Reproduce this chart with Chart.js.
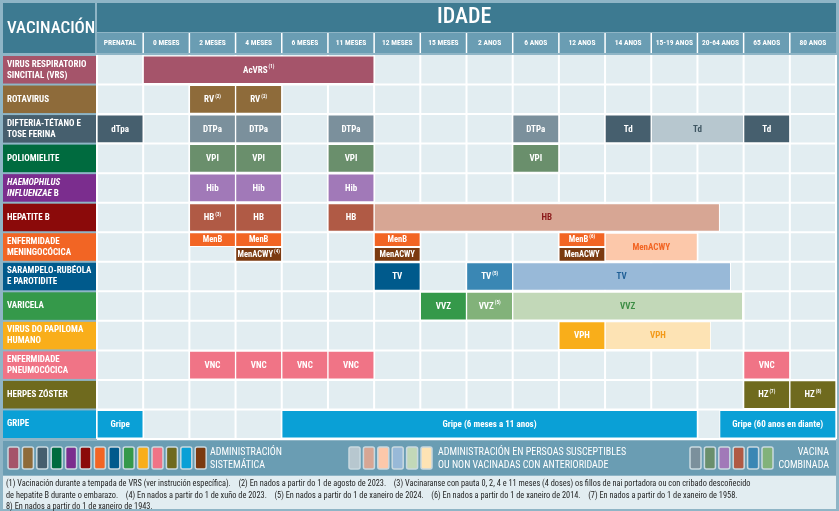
<!DOCTYPE html>
<html><head><meta charset="utf-8">
<script src="https://cdn.jsdelivr.net/npm/chart.js@4"></script>
<style>html,body{margin:0;padding:0;background:#fff}#w{width:839px;height:511px}</style>
</head><body><div id="w"><canvas id="c"></canvas></div>
<script>
const ages = ["PRENATAL","0 MESES","2 MESES","4 MESES","6 MESES","11 MESES","12 MESES","15 MESES","2 ANOS","6 ANOS","12 ANOS","14 ANOS","15-19 ANOS","20-64 ANOS","65 ANOS","80 ANOS"];
const vaccines = [["VIRUS RESPIRATORIO","SINCITIAL (VRS)"],["ROTAVIRUS"],["DIFTERIA-TÉTANO E","TOSE FERINA"],["POLIOMIELITE"],["HAEMOPHILUS","INFLUENZAE"],["HEPATITE B"],["ENFERMIDADE","MENINGOCÓCICA"],["SARAMPELO-RUBÉOLA","E PAROTIDITE"],["VARICELA"],["VIRUS DO PAPILOMA","HUMANO"],["ENFERMIDADE","PNEUMOCÓCICA"],["HERPES ZÓSTER"],["GRIPE"]];
// segments: [row, from, to, label, superscript, colourKey, part]
const segments = [
 [0,1,6,"AcVRS","(1)","vrs","full"],
 [1,2,3,"RV","(2)","rot","full"],[1,3,4,"RV","(2)","rot","full"],
 [2,0,1,"dTpa","","dtpD","full"],[2,2,3,"DTPa","","dtpC","full"],[2,3,4,"DTPa","","dtpC","full"],[2,5,6,"DTPa","","dtpC","full"],[2,9,10,"DTPa","","dtpC","full"],[2,11,12,"Td","","dtpD","full"],[2,12,14,"Td","","dtpL","full"],[2,14,15,"Td","","dtpD","full"],
 [3,2,3,"VPI","","polC","full"],[3,3,4,"VPI","","polC","full"],[3,5,6,"VPI","","polC","full"],[3,9,10,"VPI","","polC","full"],
 [4,2,3,"Hib","","hibC","full"],[4,3,4,"Hib","","hibC","full"],[4,5,6,"Hib","","hibC","full"],
 [5,2,3,"HB","(3)","hbC","full"],[5,3,4,"HB","","hbC","full"],[5,5,6,"HB","","hbC","full"],[5,6,13.48,"HB","","hbL","full"],
 [6,2,3,"MenB","","menB","top"],[6,3,4,"MenB","","menB","top"],[6,6,7,"MenB","","menB","top"],[6,10,11,"MenB","(6)","menB","top"],
 [6,3,4,"MenACWY","(4)","menA","bottom"],[6,6,7,"MenACWY","","menA","bottom"],[6,10,11,"MenACWY","","menA","bottom"],[6,11,13,"MenACWY","","menL","full"],
 [7,6,7,"TV","","tvD","full"],[7,8,9,"TV","(5)","tvC","full"],[7,9,13.72,"TV","","tvL","full"],
 [8,7,8,"VVZ","","vvD","full"],[8,8,9,"VVZ","(5)","vvC","full"],[8,9,13.98,"VVZ","","vvL","full"],
 [9,10,11,"VPH","","vph","full"],[9,11,13.29,"VPH","","vphL","full"],
 [10,2,3,"VNC","","vnc","full"],[10,3,4,"VNC","","vnc","full"],[10,4,5,"VNC","","vnc","full"],[10,5,6,"VNC","","vnc","full"],[10,14,15,"VNC","","vnc","full"],
 [11,14,15,"HZ","(7)","hz","full"],[11,15,16,"HZ","(8)","hz","full"],
 [12,0,1,"Gripe","","grip","full"],[12,4,13,"Gripe (6 meses a 11 anos)","","grip","full"],[12,13.48,16,"Gripe (60 anos en diante)","","grip","full"]
];
const footnotes = [
 "(1) Vacinación durante a tempada de VRS (ver instrución específica).    (2) En nados a partir do 1 de agosto de 2023.    (3) Vacinaranse con pauta 0, 2, 4 e 11 meses (4 doses) os fillos de nai portadora ou con cribado descoñecido",
 "de hepatite B durante o embarazo.    (4) En nados a partir do 1 de xuño de 2023.    (5) En nados a partir do 1 de xaneiro de 2024.    (6) En nados a partir do 1 de xaneiro de 2014.    (7) En nados a partir do 1 de xaneiro de 1958.",
 "8) En nados a partir do 1 de xaneiro de 1943."
];
const COL = {vrs:["#a5546a","#fff"],rot:["#8e6b3a","#fff"],dtpD:["#465f6e","#fff"],dtpC:["#7b909c","#fff"],dtpL:["#b7c7cf","#3f5662"],
 polC:["#6a8f6c","#fff"],hibC:["#a179b8","#fff"],hbC:["#b05a45","#fff"],hbL:["#d7a694","#8b1a1a"],menB:["#f26524","#fff"],menA:["#7b3a10","#fff"],menL:["#fcc8aa","#f26524"],
 tvD:["#005a8c","#fff"],tvC:["#3a87b4","#fff"],tvL:["#98b9d8","#1f5f96"],vvD:["#35994a","#fff"],vvC:["#82b27a","#fff"],vvL:["#c2d8b8","#3c8c44"],
 vph:["#f9ae1a","#fff"],vphL:["#fde3b4","#f39a1a"],vnc:["#f07486","#fff"],hz:["#6f6a1e","#fff"],grip:["#0aa0d6","#fff"]};
const rowColors = ["#a5546a","#8e6b3a","#465f6e","#006b3f","#7b2d8e","#8b0a0a","#f26524","#005a8c","#35994a","#f9ae1a","#f07486","#6f6a1e","#0aa0d6"];
const F = '"Liberation Sans Narrow","Roboto Condensed","Liberation Sans",sans-serif';

function mk(part, thick){
  const s = segments.filter(d=>d[6]===part);
  const off = part==="top"?-0.25:part==="bottom"?0.25:0;
  return {data:s.map(d=>({x:[d[1],d[2]],y:d[0]+off})), seg:s,
    backgroundColor:s.map(d=>COL[d[5]][0]), borderColor:"#ffffff", borderWidth:1, borderSkipped:false,
    barThickness:thick, grouped:false};
}
const bg = {id:"bg", beforeDatasetsDraw(ch){
  const c=ch.ctx, x=ch.scales.x, y=ch.scales.y, a=ch.chartArea;
  c.save();
  c.fillStyle="#8fb5c6"; c.fillRect(0,0,839,511);
  c.fillStyle="#e2edf1"; c.fillRect(a.left,a.top,a.right-a.left,a.bottom-a.top);
  c.fillStyle="#3d7a91"; c.fillRect(3,3,92,50); c.fillRect(97,3,a.right-97,29);
  c.fillStyle="#6a9db3"; c.fillRect(97,33,a.right-97,20);
  c.fillStyle="#fff"; c.textBaseline="middle";
  c.font="500 17px "+F; c.textAlign="left"; c.fillText("VACINACIÓN",7,29);
  c.font="500 22px "+F; c.fillText("IDADE",437,17);
  c.font="bold 7.5px "+F; c.textAlign="center";
  ages.forEach((t,i)=>{c.fillText(t,(x.getPixelForValue(i)+x.getPixelForValue(i+1))/2,43);});
  c.strokeStyle="#fff"; c.lineWidth=1.5;
  for(let i=1;i<16;i++){const px=x.getPixelForValue(i);c.beginPath();c.moveTo(px,33);c.lineTo(px,53);c.stroke();}
  c.lineWidth=2;
  for(let i=0;i<=16;i++){const px=x.getPixelForValue(i);c.beginPath();c.moveTo(px,a.top);c.lineTo(px,a.bottom);c.stroke();}
  vaccines.forEach((t,r)=>{
    const t0=y.getPixelForValue(r-0.5), t1=y.getPixelForValue(r+0.5);
    c.fillStyle=rowColors[r]; c.fillRect(3,t0+1,93,t1-t0-2);
    c.fillStyle="#fff"; c.textAlign="left";
    const cy=(t0+t1)/2;
    t.forEach((ln,k)=>{
      const yy=cy+(k-(t.length-1)/2)*11;
      c.font=(r===4?"italic ":"")+"bold 9px "+F;
      c.fillText(ln,7,yy);
      if(r===4&&k===1){const w=c.measureText(ln).width;c.font="bold 9px "+F;c.fillText(" B",7+w,yy);}
    });
    c.strokeStyle="#fff"; c.lineWidth=2; c.beginPath(); c.moveTo(a.left,t1); c.lineTo(a.right,t1); c.stroke();
  });
  c.fillStyle="#6a9db3"; c.fillRect(3,441,833,34);
  c.fillStyle="#e2edf1"; c.fillRect(3,476,833,33);
  const sw=(xx,col)=>{c.fillStyle=col;c.strokeStyle="#c9d9e0";c.lineWidth=1.5;c.beginPath();c.roundRect(xx,447,11,22,2);c.fill();c.stroke();};
  rowColors.concat(["#7b3a10"]).forEach((col,i)=>sw(8+i*14.4,col));
  ["#b7c7cf","#d7a694","#fcc8aa","#98b9d8","#c2d8b8","#fde3b4"].forEach((col,i)=>sw(349+i*14.4,col));
  ["#7b909c","#6a8f6c","#a179b8","#b05a45","#3a87b4","#82b27a"].forEach((col,i)=>sw(690+i*14.4,col));
  c.fillStyle="#fff"; c.font="10px "+F; c.textAlign="left";
  c.fillText("ADMINISTRACIÓN",210,452); c.fillText("SISTEMÁTICA",210,465);
  c.fillText("ADMINISTRACIÓN EN PERSOAS SUSCEPTIBLES",438,452); c.fillText("OU NON VACINADAS CON ANTERIORIDADE",438,465);
  c.textAlign="right"; c.fillText("VACINA",829,452); c.fillText("COMBINADA",829,465);
  c.fillStyle="#1e1e1e"; c.font="8.3px "+F; c.textAlign="left";
  footnotes.forEach((t,i)=>c.fillText(t,6,484+i*11.5));
  c.restore();
}};
const lbl = {id:"lbl", afterDatasetsDraw(ch){
  const c=ch.ctx; c.save(); c.textBaseline="middle"; c.textAlign="left";
  ch.data.datasets.forEach((ds,di)=>{
    ch.getDatasetMeta(di).data.forEach((el,i)=>{
      const d=ds.seg[i], p=el.getProps(["x","y","base"]);
      const cx=(p.x+p.base)/2;
      const mf="bold "+(d[6]==="full"?9:8.5)+"px "+F;
      c.font=mf; const w=c.measureText(d[3]).width;
      c.font="bold 5px "+F; const ws=d[4]?c.measureText(d[4]).width+1:0;
      const sx=cx-(w+ws)/2;
      c.fillStyle=COL[d[5]][1];
      c.font=mf; c.fillText(d[3],sx,p.y+0.5);
      if(d[4]){c.font="bold 5px "+F;c.fillText(d[4],sx+w+1,p.y-3);}
    });
  });
  c.restore();
}};
new Chart(document.getElementById("c"),{
  type:"bar",
  data:{datasets:[mk("full",28),mk("top",14),mk("bottom",14)]},
  options:{indexAxis:"y",responsive:true,maintainAspectRatio:false,animation:false,
    layout:{padding:{left:97,top:55,right:3,bottom:72}},
    scales:{x:{type:"linear",min:0,max:16,display:false,offset:false},
            y:{type:"linear",min:-0.5,max:12.5,reverse:true,display:false,offset:false}},
    plugins:{legend:{display:false},tooltip:{enabled:false}}},
  plugins:[bg,lbl]
});
</script></body></html>
